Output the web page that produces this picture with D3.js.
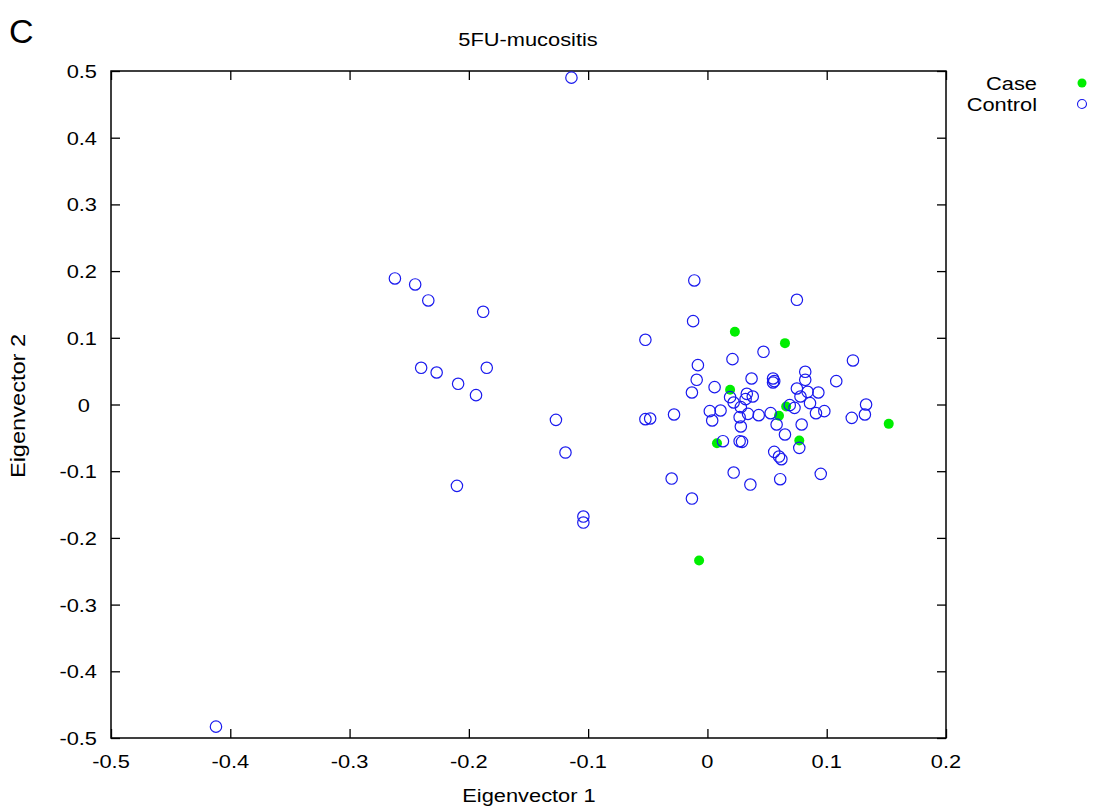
<!DOCTYPE html>
<html>
<head>
<meta charset="utf-8">
<script src="https://cdn.jsdelivr.net/npm/d3@7"></script>
<style>
  body { margin: 0; background: #fff; }
  svg text { font-family: "Liberation Sans", Arial, sans-serif; fill: #000; }
</style>
</head>
<body>
<svg id="chart" width="1100" height="810"></svg>
<script>
// eigenvector 1 / eigenvector 2 pairs
var casePoints = [
  [0.023, 0.109], [0.065, 0.092], [0.019, 0.022], [0.066, -0.003], [0.060, -0.017],
  [0.152, -0.029], [0.077, -0.054], [0.008, -0.058], [-0.007, -0.234]
];

var controlPoints = [
  [-0.114, 0.490], [-0.412, -0.483], [-0.262, 0.189], [-0.245, 0.180], [-0.234, 0.156],
  [-0.188, 0.139], [-0.240, 0.055], [-0.227, 0.048], [-0.185, 0.055], [-0.209, 0.031],
  [-0.194, 0.014], [-0.127, -0.023], [-0.119, -0.072], [-0.210, -0.122], [-0.104, -0.168],
  [-0.104, -0.177],
  [-0.011, 0.186], [0.075, 0.157], [-0.012, 0.125], [-0.052, 0.097], [0.047, 0.079],
  [0.021, 0.068], [0.122, 0.066], [-0.008, 0.059], [0.082, 0.049], [-0.009, 0.037],
  [0.082, 0.037], [0.037, 0.039], [0.055, 0.039], [0.056, 0.035], [0.055, 0.033],
  [0.108, 0.035], [0.006, 0.026], [0.075, 0.024], [0.084, 0.019], [0.093, 0.018],
  [-0.013, 0.018], [0.033, 0.016], [0.038, 0.012], [0.019, 0.011], [0.032, 0.008],
  [0.078, 0.012], [0.022, 0.003], [0.086, 0.002], [0.133, 0.000], [0.028, -0.004],
  [0.069, -0.001], [0.073, -0.005], [0.002, -0.010], [0.011, -0.009], [-0.028, -0.015],
  [-0.052, -0.022], [-0.048, -0.021], [0.004, -0.024], [0.034, -0.014], [0.027, -0.019],
  [0.043, -0.016], [0.053, -0.013], [0.091, -0.013], [0.098, -0.010], [0.121, -0.020],
  [0.132, -0.015], [0.028, -0.033], [0.058, -0.030], [0.079, -0.030], [0.065, -0.045],
  [0.077, -0.065], [0.013, -0.055], [0.027, -0.055], [0.029, -0.056], [0.056, -0.071],
  [0.060, -0.078], [0.062, -0.082], [-0.030, -0.111], [0.022, -0.102], [0.036, -0.120],
  [0.061, -0.112], [0.095, -0.104], [-0.013, -0.141]
];

var xTicks = [-0.5, -0.4, -0.3, -0.2, -0.1, 0, 0.1, 0.2];
var yTicks = [-0.5, -0.4, -0.3, -0.2, -0.1, 0, 0.1, 0.2, 0.3, 0.4, 0.5];
var legendLabels = ["Case", "Control"];

var margin = {left: 111, right: 946, top: 71, bottom: 738};
var svg = d3.select("#chart");

var x = d3.scaleLinear().domain([-0.5, 0.2]).range([margin.left, margin.right]);
var y = d3.scaleLinear().domain([-0.5, 0.5]).range([margin.bottom, margin.top]);

var fmt = function(d){ return d === 0 ? "0" : d3.format(".1f")(d).replace("−", "-"); };

//the original type is a bit wider than helvetica, so stretch it
var stretch = 1.18;
function label(parent, px, py, str, size, anchor, rot){
  var g = parent.append("g")
     .attr("transform", `translate(${px},${py}) rotate(${rot || 0}) scale(${stretch},1)`);
  g.append("text")
     .attr("text-anchor", anchor || "start")
     .attr("font-size", size)
     .text(str);
  return g;
}

//ticks point inward, mirrored on all four sides
svg.append("g")
   .attr("transform", `translate(0,${margin.bottom})`)
   .call(d3.axisTop(x).tickValues(xTicks).tickSize(9).tickFormat(""))
   .call(g => g.select(".domain").remove());
svg.append("g")
   .attr("transform", `translate(0,${margin.top})`)
   .call(d3.axisBottom(x).tickValues(xTicks).tickSize(9).tickFormat(""))
   .call(g => g.select(".domain").remove());
svg.append("g")
   .attr("transform", `translate(${margin.left},0)`)
   .call(d3.axisRight(y).tickValues(yTicks).tickSize(9).tickFormat(""))
   .call(g => g.select(".domain").remove());
svg.append("g")
   .attr("transform", `translate(${margin.right},0)`)
   .call(d3.axisLeft(y).tickValues(yTicks).tickSize(9).tickFormat(""))
   .call(g => g.select(".domain").remove());
svg.selectAll(".tick line").attr("stroke", "#000").attr("stroke-width", 1.3);

//tick labels
var xLab = svg.append("g");
xTicks.forEach(function(d){ label(xLab, x(d), 768, fmt(d), 18.5, "middle"); });

var yLab = svg.append("g");
yTicks.forEach(function(d){ label(yLab, d === 0 ? 90 : 97, y(d) + 7, fmt(d), 18.5, "end"); });

//frame
svg.append("rect")
   .attr("x", margin.left).attr("y", margin.top)
   .attr("width", margin.right - margin.left)
   .attr("height", margin.bottom - margin.top)
   .attr("fill", "none")
   .attr("stroke", "#000")
   .attr("stroke-width", 1.5);

//titles
svg.append("text").attr("x", 9).attr("y", 43).attr("font-size", 34).text("C");
label(svg, 528, 46, "5FU-mucositis", 18.5, "middle");
label(svg, 529, 802, "Eigenvector 1", 18.5, "middle");
label(svg, 25, 406, "Eigenvector 2", 20, "middle", -90);

//points: case first so control rings sit on top
svg.append("g").selectAll("circle")
   .data(casePoints).enter().append("circle")
     .attr("cx", d => x(d[0]))
     .attr("cy", d => y(d[1]))
     .attr("r", 5)
     .attr("fill", "#00ee00");

svg.append("g").selectAll("circle")
   .data(controlPoints).enter().append("circle")
     .attr("cx", d => x(d[0]))
     .attr("cy", d => y(d[1]))
     .attr("r", 5.7)
     .attr("fill", "none")
     .attr("stroke", "#1a1aee")
     .attr("stroke-width", 1.2);

//legend
var legend = svg.append("g").selectAll("g")
   .data(legendLabels).enter().append("g")
     .attr("transform", (d, i) => `translate(0,${83 + i * 21})`);
legend.each(function(d){ label(d3.select(this), 1037, 7, d, 18.5, "end"); });
legend.append("circle")
   .attr("cx", 1082).attr("cy", 0)
   .attr("r", 4.5)
   .attr("fill", d => d === "Case" ? "#00ee00" : "none")
   .attr("stroke", d => d === "Case" ? "none" : "#1a1aee")
   .attr("stroke-width", 1.1);
</script>
</body>
</html>
